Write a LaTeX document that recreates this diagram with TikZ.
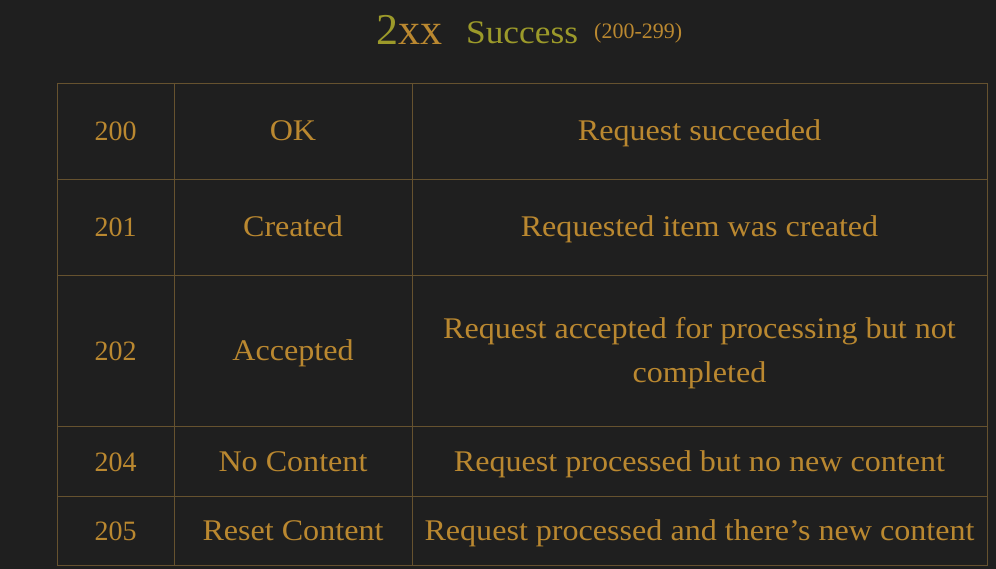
\documentclass[tikz,border=0pt]{standalone}
\usepackage{fontspec}
\setmainfont{Liberation Serif}
\newfontfamily\wordfont[FakeStretch=1.07]{Liberation Serif}
\definecolor{bg}{HTML}{1F1F1F}
\definecolor{gold}{HTML}{BA8830}
\definecolor{olive}{HTML}{9C9A2A}
\definecolor{rule}{HTML}{66522F}
\begin{document}
\begin{tikzpicture}[x=1pt,y=-1pt,
  num/.style={text=gold,font=\fontsize{28}{44}\selectfont,inner sep=0pt,anchor=base},
  cell/.style={text=gold,font=\wordfont\fontsize{30}{44}\selectfont,inner sep=0pt,anchor=base},
  grid/.style={draw=rule,line width=0.9pt}]
\fill[bg] (0,0) rectangle (996,569);
\useasboundingbox (0,0) rectangle (996,569);
% title
\node[anchor=base east,inner sep=0pt,font=\fontsize{44}{44}\selectfont] (t1) at (443,45) {\textcolor{olive}{2}\textcolor{gold}{xx}};
\node[anchor=base west,inner sep=0pt,font=\wordfont\fontsize{33}{33}\selectfont,text=olive] (t2) at (466,44) {Success};
\node[anchor=base west,inner sep=0pt,font=\fontsize{22}{22}\selectfont,text=gold] (t3) at (594,39) {(200-299)};
% grid
\draw[grid] (57,83) rectangle (987,565);
\foreach \y in {179,275,426,496} \draw[grid] (57,\y) -- (987,\y);
\foreach \x in {174,412} \draw[grid] (\x,83) -- (\x,565);
% cells
\node[num] (c1) at (115.5,141) {200};
\node[cell] (n1) at (293,141) {OK};
\node[cell] (d1) at (699.5,141) {Request succeeded};
\node[num] (c2) at (115.5,237) {201};
\node[cell] (n2) at (293,237) {Created};
\node[cell] (d2) at (699.5,237) {Requested item was created};
\node[num] (c3) at (115.5,360) {202};
\node[cell] (n3) at (293,360) {Accepted};
\node[cell] (d3a) at (699.5,338) {Request accepted for processing but not};
\node[cell] (d3b) at (699.5,382) {completed};
\node[num] (c4) at (115.5,471) {204};
\node[cell] (n4) at (293,471) {No Content};
\node[cell] (d4) at (699.5,471) {Request processed but no new content};
\node[num] (c5) at (115.5,540) {205};
\node[cell] (n5) at (293,540) {Reset Content};
\node[cell] (d5) at (699.5,540) {Request processed and there’s new content};
\end{tikzpicture}
\end{document}
